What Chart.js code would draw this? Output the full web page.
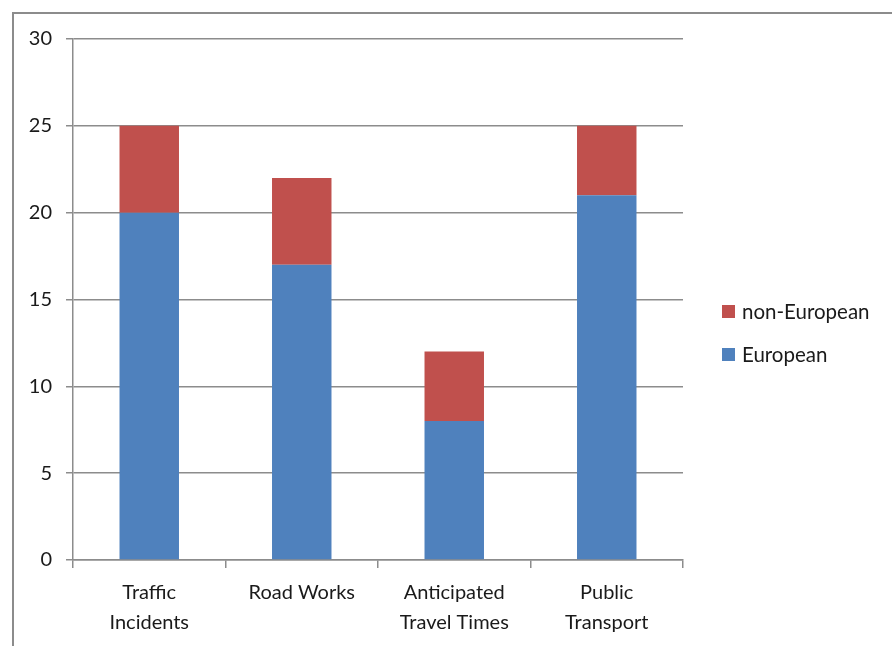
<!DOCTYPE html>
<html>
<head>
<meta charset="utf-8">
<script src="https://cdn.jsdelivr.net/npm/chart.js@4/dist/chart.umd.min.js"></script>
<style>
  body { margin: 0; background: #fff; }
  #frame { position: absolute; left: 12px; top: 12px; width: 1000px; height: 1000px; border: 2px solid #8c8c8c; }
  #wrap { position: absolute; left: 0; top: 0; width: 892px; height: 646px; }
  #legend { position: absolute; left: 722px; top: 0; font-family: Lato, "Open Sans", sans-serif; font-size: 20.5px; color: #1a1a1a; }
  .item { position: absolute; white-space: nowrap; display: flex; align-items: center; }
  .box { width: 13px; height: 13px; margin-right: 7px; }
</style>
</head>
<body>
<div id="frame"></div>
<div id="wrap">
  <canvas id="myChart" width="892" height="646"></canvas>
  <div id="legend"></div>
</div>
<script>
const categories = [['Traffic', 'Incidents'], ['Road Works'], ['Anticipated', 'Travel Times'], ['Public', 'Transport']];
const european = [20, 17, 8, 21];
const nonEuropean = [5, 5, 4, 4];
const yTicks = [0, 5, 10, 15, 20, 25, 30];

const gridColor = '#8c8c8c';
const font = { family: 'Lato, "Open Sans", sans-serif', size: 20, lineHeight: 1.5 };

const ctx = document.getElementById('myChart').getContext('2d');

const chart = new Chart(ctx, {
  type: 'bar',
  data: {
    labels: categories,
    datasets: [{
      label: 'European',
      backgroundColor: '#4F81BD',
      data: european,
    },
    {
      label: 'non-European',
      backgroundColor: '#C0504D',
      data: nonEuropean,
    }]
  },
  options: {
    responsive: false,
    animation: false,
    layout: { padding: { top: 39, right: 209, left: 0, bottom: 0 } },
    datasets: { bar: { categoryPercentage: 1, barPercentage: 0.39 } },
    plugins: {
      legend: { display: false },
      tooltip: { enabled: false }
    },
    scales: {
      x: {
        stacked: true,
        grid: { offset: true, drawOnChartArea: false, color: gridColor, tickLength: 8, lineWidth: 1.5 },
        border: { color: gridColor, width: 1.5 },
        ticks: { color: '#1a1a1a', font: font, padding: 10, maxRotation: 0, autoSkip: false },
        afterFit: function(scale) { scale.height = 86; }
      },
      y: {
        stacked: true,
        min: 0,
        max: 30,
        afterBuildTicks: function(scale) { scale.ticks = yTicks.map(v => ({ value: v })); },
        grid: { color: gridColor, tickLength: 7, lineWidth: 1.5 },
        border: { color: gridColor, width: 1.5 },
        ticks: { color: '#1a1a1a', font: font, padding: 14 },
        afterFit: function(scale) { scale.width = 73; }
      }
    }
  }
});

// legend, top item is the top of the stack
(function() {
  const el = document.getElementById('legend');
  const items = chart.data.datasets.slice().reverse();
  const tops = [311, 354];
  items.forEach(function(ds, i) {
    const div = document.createElement('div');
    div.className = 'item';
    div.style.top = (tops[i] - 12) + 'px';
    div.style.height = '24px';
    div.innerHTML = '<span class="box" style="background:' + ds.backgroundColor + '"></span>' + ds.label;
    el.appendChild(div);
  });
})();
</script>
</body>
</html>
